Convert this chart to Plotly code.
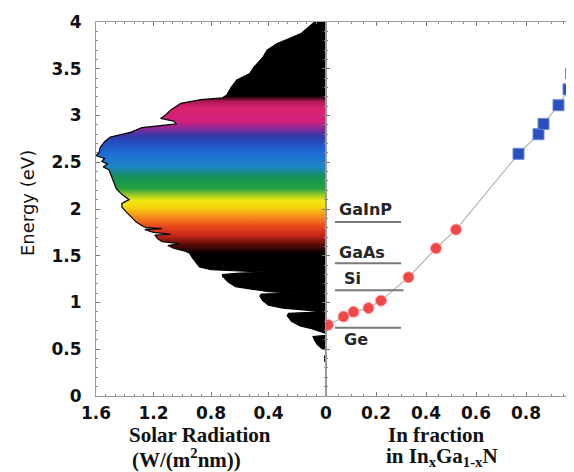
import plotly.graph_objects as go

# ---------------- data ----------------
# Solar spectrum (photon energy eV, irradiance W/(m^2 nm))
spec_energy = [4.00, 3.95, 3.88, 3.82, 3.77, 3.70, 3.62, 3.52, 3.45, 3.38, 3.30, 3.22, 3.19,
               3.17, 3.13, 3.06, 3.00, 2.97, 2.94, 2.91, 2.87, 2.82, 2.77, 2.72, 2.66, 2.60,
               2.57, 2.54, 2.51, 2.48, 2.45, 2.42, 2.38, 2.33, 2.28, 2.22, 2.17, 2.13, 2.10,
               2.06, 2.02, 1.97, 1.92, 1.86, 1.82, 1.80, 1.79, 1.78, 1.75, 1.73, 1.72, 1.68,
               1.65, 1.63, 1.61, 1.58, 1.55, 1.53, 1.48, 1.42, 1.38, 1.35, 1.335, 1.325, 1.315,
               1.30, 1.28, 1.22, 1.17, 1.14, 1.115, 1.10, 1.09, 1.07, 1.02, 0.97, 0.94, 0.915,
               0.90, 0.885, 0.86, 0.80, 0.75, 0.72, 0.69, 0.67, 0.65, 0.635, 0.60, 0.55, 0.51,
               0.49, 0.45, 0.42, 0.38, 0.35, 0.0]
spec_value = [0.08, 0.12, 0.17, 0.26, 0.34, 0.41, 0.44, 0.50, 0.53, 0.62, 0.66, 0.69, 0.72,
              0.87, 1.01, 1.08, 1.12, 1.15, 1.06, 1.04, 1.28, 1.36, 1.50, 1.54, 1.57, 1.58,
              1.60, 1.54, 1.56, 1.52, 1.55, 1.51, 1.50, 1.49, 1.48, 1.46, 1.43, 1.40, 1.37,
              1.42, 1.42, 1.39, 1.36, 1.32, 1.28, 1.25, 1.14, 1.26, 1.20, 1.08, 1.19, 1.17,
              1.14, 1.02, 1.10, 1.06, 0.98, 0.95, 0.93, 0.90, 0.88, 0.80, 0.62, 0.41, 0.60,
              0.72, 0.72, 0.68, 0.63, 0.52, 0.40, 0.21, 0.45, 0.46, 0.44, 0.40, 0.30, 0.12,
              0.02, 0.26, 0.27, 0.24, 0.18, 0.10, 0.03, 0.0, 0.0, 0.09, 0.08, 0.06, 0.03,
              0.0, 0.0, 0.01, 0.01, 0.0, 0.0]

# InGaN band gap vs In fraction
ingan_red_x = [0.008, 0.07, 0.11, 0.17, 0.22, 0.33, 0.44, 0.52]
ingan_red_e = [0.76, 0.85, 0.90, 0.94, 1.02, 1.27, 1.58, 1.78]
ingan_blue_x = [0.77, 0.85, 0.87, 0.93, 0.97, 0.98]
ingan_blue_e = [2.59, 2.80, 2.91, 3.11, 3.28, 3.45]

# reference semiconductor band gaps
materials = ["GaInP", "GaAs", "Si", "Ge"]
material_gap = [1.86, 1.42, 1.13, 0.73]
material_x0 = [0.036, 0.036, 0.036, 0.036]
material_x1 = [0.30, 0.30, 0.31, 0.30]

# tick labels
left_ticks = [1.6, 1.2, 0.8, 0.4, 0]
right_ticks = [0.2, 0.4, 0.6, 0.8]
energy_ticks = [0, 0.5, 1, 1.5, 2, 2.5, 3, 3.5, 4]

# ---------------- layout helpers ----------------
OFF = 8                      # page body margin of the html page
W, H = 574 - OFF, 472 - OFF
ML, MR, MT, MB = 96 - OFF, 0, 22 - OFF, H - (396 - OFF)
PW, PH = W - ML - MR, H - MT - MB
split = (326 - 96) / PW


def px(xp):  # reference pixel x -> paper
    return (xp - 96) / PW


def py(yp):  # reference pixel y -> paper
    return (396 - yp) / PH


# spectrum colour by photon energy (gradient stops, energy -> colour)
stops = [(0.0, "#000000"), (1.52, "#000000"), (1.62, "#5a0c08"), (1.72, "#c8281a"),
         (1.82, "#ea4a1c"), (1.92, "#f4901a"), (2.02, "#f6d60c"), (2.09, "#f2e810"),
         (2.15, "#9cc828"), (2.22, "#24a040"), (2.35, "#14905c"), (2.45, "#1c86c4"),
         (2.58, "#1c70d6"), (2.70, "#2450c0"), (2.78, "#3438aa"), (2.86, "#8a2a98"),
         (2.94, "#d4207a"), (3.08, "#d8226c"), (3.15, "#b01a56"), (3.21, "#000000"),
         (4.0, "#000000")]
colorscale = [[e / 4.0, c] for e, c in stops]

fig = go.Figure()

fig.add_trace(go.Scatter(
    x=spec_value, y=spec_energy, xaxis="x", yaxis="y",
    mode="lines", line=dict(color="#000000", width=1.2),
    fill="tozerox",
    fillgradient=dict(type="vertical", colorscale=colorscale, start=0, stop=4),
    hoverinfo="skip", showlegend=False))

# connecting line through all InGaN points
fig.add_trace(go.Scatter(
    x=ingan_red_x + ingan_blue_x, y=ingan_red_e + ingan_blue_e,
    xaxis="x2", yaxis="y2", mode="lines",
    line=dict(color="#b4b4b4", width=1.2), showlegend=False))

for name, g, a, b in zip(materials, material_gap, material_x0, material_x1):
    fig.add_trace(go.Scatter(x=[a, b], y=[g, g], xaxis="x2", yaxis="y2", mode="lines",
                             line=dict(color="#7a7a7a", width=2), showlegend=False))

fig.add_trace(go.Scatter(
    x=ingan_red_x, y=ingan_red_e, xaxis="x2", yaxis="y2", mode="markers",
    marker=dict(color="#f04848", size=11, line=dict(color="#ffa0a0", width=1)),
    showlegend=False))
fig.add_trace(go.Scatter(
    x=ingan_blue_x, y=ingan_blue_e, xaxis="x2", yaxis="y2", mode="markers",
    marker=dict(color="#2a50c0", symbol="square", size=11,
                line=dict(color="#6a88d8", width=1)),
    showlegend=False))

# material labels
label_offsets = {"GaInP": (0.044, 0.14), "GaAs": (0.044, 0.12),
                 "Si": (0.064, 0.13), "Ge": (0.064, -0.13)}
for name, g in zip(materials, material_gap):
    dx, dy = label_offsets[name]
    fig.add_annotation(x=dx, y=g + dy, xref="x2", yref="y2", text="<b>%s</b>" % name,
                       showarrow=False, xanchor="left", yanchor="middle",
                       font=dict(family="DejaVu Sans", size=16, color="#262626"))

tick_font = dict(family="DejaVu Sans", size=17, color="#111111", weight="bold")
frame = dict(showline=True, linecolor="#9a9a9a", linewidth=1, mirror="ticks",
             ticks="inside", ticklen=4, tickcolor="#777777", tickwidth=1,
             showgrid=False, zeroline=False, tickfont=tick_font)

fig.update_layout(
    width=W, height=H, margin=dict(l=ML, r=MR, t=MT, b=MB, autoexpand=False),
    paper_bgcolor="white", plot_bgcolor="white",
    xaxis=dict(domain=[0, split], range=[1.6, 0], tickvals=left_ticks,
               ticktext=[str(t) for t in left_ticks], anchor="y",
               minor=dict(dtick=0.4 / 6, ticks="inside", ticklen=2, tickcolor="#888888"),
               ticklabelstandoff=2, **frame),
    xaxis2=dict(domain=[split, 1], range=[0, 0.992], tickvals=right_ticks,
                ticktext=[str(t) for t in right_ticks], anchor="y2",
                minor=dict(dtick=0.05, ticks="inside", ticklen=2, tickcolor="#888888"),
                ticklabelstandoff=2, **frame),
    yaxis=dict(domain=[0, 1], range=[0, 4], tickvals=energy_ticks,
               ticktext=[str(t) for t in energy_ticks], anchor="x",
               minor=dict(dtick=0.1, ticks="inside", ticklen=2, tickcolor="#888888"),
               ticklabelstandoff=10, **frame),
    yaxis2=dict(domain=[0, 1], range=[0, 4], anchor="x2", matches="y",
                showticklabels=False,
                minor=dict(dtick=0.1, ticks="inside", ticklen=2, tickcolor="#888888"),
                **frame),
)

serif = dict(family="Liberation Serif", size=21, color="#111111")
fig.add_annotation(x=px(27), y=py(203), xref="paper", yref="paper", text="Energy (eV)",
                   textangle=-90, showarrow=False, xanchor="center", yanchor="middle",
                   font=dict(family="DejaVu Sans", size=18, color="#111111"))
fig.add_annotation(x=px(200), y=py(435), xref="paper", yref="paper",
                   text="<b>Solar Radiation</b>", showarrow=False,
                   xanchor="center", yanchor="middle", font=serif)
fig.add_annotation(x=px(186), y=py(458), xref="paper", yref="paper",
                   text="<b>(W/(m<sup>2</sup>nm))</b>", showarrow=False,
                   xanchor="center", yanchor="middle", font=serif)
fig.add_annotation(x=px(436), y=py(435), xref="paper", yref="paper",
                   text="<b>In fraction</b>", showarrow=False,
                   xanchor="center", yanchor="middle", font=serif)
fig.add_annotation(x=px(442), y=py(457), xref="paper", yref="paper",
                   text="<b>in In<sub>x</sub>Ga<sub>1-x</sub>N</b>", showarrow=False,
                   xanchor="center", yanchor="middle", font=serif)

fig.write_html("out.html")
